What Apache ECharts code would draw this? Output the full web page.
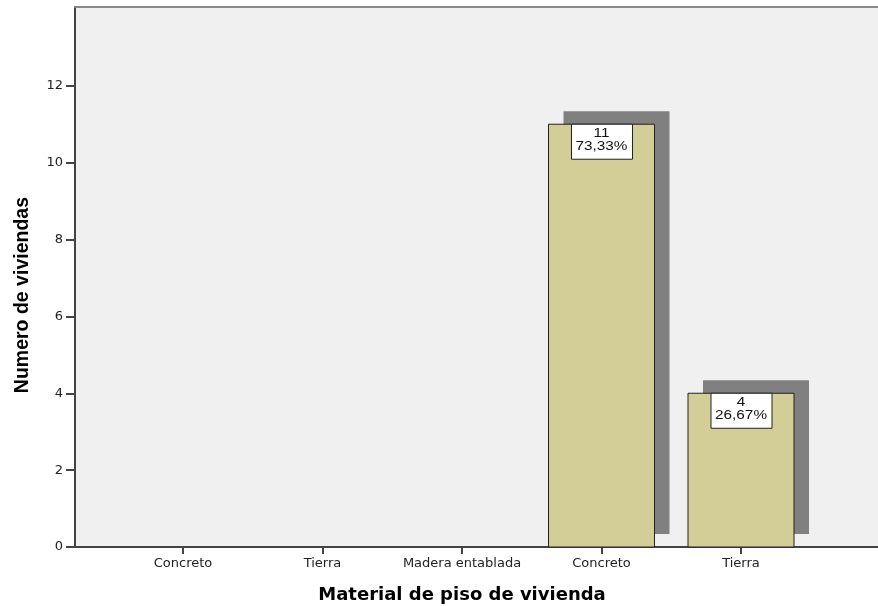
<!DOCTYPE html>
<html>
<head>
<meta charset="utf-8">
<script src="https://cdn.jsdelivr.net/npm/echarts@6/dist/echarts.min.js"></script>
<style>
  html, body { margin: 0; padding: 0; background: #fff; }
  #chart { width: 878px; height: 606px; }
</style>
</head>
<body>
<div id="chart"></div>
<script>
// datos del grafico
const categories = ['Concreto', 'Tierra', 'Madera entablada', 'Concreto', 'Tierra'];
const counts = [0, 0, 0, 11, 4];
const yTicks = [0, 2, 4, 6, 8, 10, 12];

const total = counts.reduce((a, b) => a + b, 0);
const xTicks = categories.map((c, i) => i);
// solo las barras con valor
const barData = counts
  .map((c, i) => [i, c])
  .filter(d => d[1] > 0);

const chart = echarts.init(document.getElementById('chart'));

function renderBar(params, api) {
  const x = api.value(0);
  const v = api.value(1);
  const top = api.coord([x, v]);
  const base = api.coord([x, 0]);
  const w = 106;
  const h = base[1] - top[1];
  const left = top[0] - w / 2;
  const pct = (v / total * 100).toFixed(2).replace('.', ',') + '%';
  return {
    type: 'group',
    children: [
      // sombra
      {
        type: 'rect',
        shape: { x: left + 15, y: top[1] - 13, width: w, height: h },
        style: { fill: '#808080' }
      },
      {
        type: 'rect',
        shape: { x: left, y: top[1], width: w, height: h },
        style: { fill: '#d3ce98', stroke: '#222', lineWidth: 1 }
      },
      {
        type: 'rect',
        shape: { x: top[0] - 30, y: top[1], width: 61, height: 35 },
        style: { fill: '#fff', stroke: '#222', lineWidth: 1 }
      },
      {
        type: 'text',
        x: top[0], y: top[1] + 3,
        scaleX: 1.18,
        style: {
          x: 0, y: 0,
          text: v + '\n' + pct,
          align: 'center', verticalAlign: 'top',
          font: '13px "Liberation Sans", Arial, sans-serif',
          lineHeight: 13,
          fill: '#111'
        }
      }
    ]
  };
}

const option = {
  animation: false,
  backgroundColor: '#fff',
  grid: {
    left: 75, right: 0, top: 7, bottom: 59,
    show: true,
    backgroundColor: '#f0f0f0',
    borderWidth: 0
  },
  title: {
    text: 'Material de piso de vivienda',
    left: 462,
    textAlign: 'center',
    top: 586,
    padding: 0,
    textStyle: {
      fontFamily: '"DejaVu Sans", Verdana, sans-serif',
      fontSize: 18,
      fontWeight: 'bold',
      color: '#000'
    }
  },
  graphic: [{
    type: 'text',
    left: 13,
    top: 197,
    rotation: Math.PI / 2,
    style: {
      text: 'Numero de viviendas',
      font: 'bold 19.5px "Liberation Sans", Arial, sans-serif',
      fill: '#000'
    }
  }],
  xAxis: [{
    type: 'value',
    min: -0.774,
    max: 4.982,
    splitLine: { show: false },
    axisLine: { show: true, onZero: false, lineStyle: { color: '#444', width: 2 } },
    axisTick: { show: true, customValues: xTicks, length: 7, lineStyle: { color: '#444', width: 2 } },
    axisLabel: {
      customValues: xTicks,
      formatter: v => categories[v] || '',
      color: '#222',
      fontSize: 13,
      fontFamily: '"DejaVu Sans", Verdana, sans-serif',
      margin: 10
    }
  }, {
    type: 'value',
    position: 'top',
    min: -0.774,
    max: 4.982,
    splitLine: { show: false },
    axisLine: { show: true, onZero: false, lineStyle: { color: '#888', width: 2 } },
    axisTick: { show: false },
    axisLabel: { show: false }
  }],
  yAxis: {
    type: 'value',
    min: 0,
    max: 14.05,
    splitLine: { show: false },
    axisLine: { show: true, onZero: false, lineStyle: { color: '#444', width: 2 } },
    axisTick: { show: true, customValues: yTicks, length: 9, lineStyle: { color: '#444', width: 2 } },
    axisLabel: {
      customValues: yTicks,
      color: '#222',
      fontSize: 13,
      fontFamily: '"DejaVu Sans", Verdana, sans-serif',
      margin: 12
    }
  },
  series: [{
    type: 'custom',
    renderItem: renderBar,
    encode: { x: 0, y: 1 },
    data: barData
  }]
};

chart.setOption(option);
</script>
</body>
</html>
